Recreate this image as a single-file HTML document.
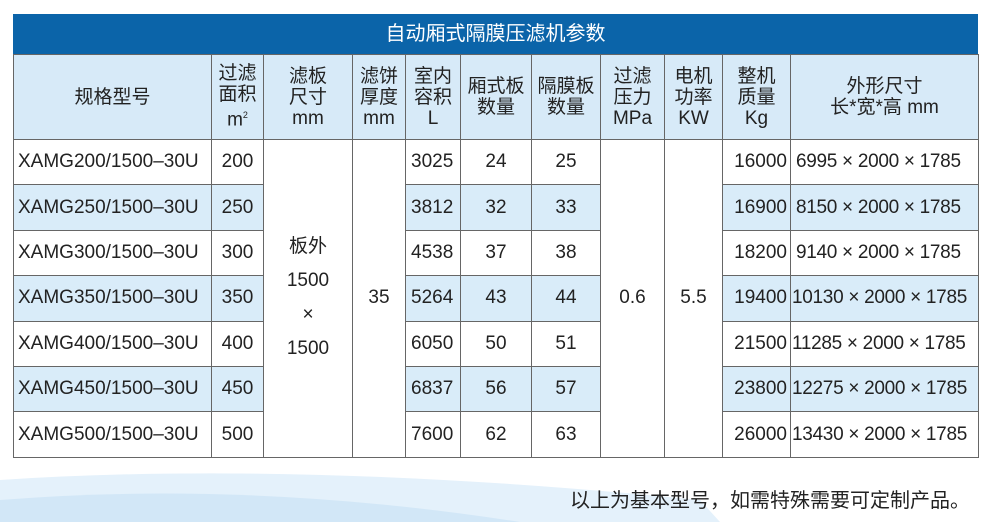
<!DOCTYPE html>
<html><head><meta charset="utf-8"><style>
body{margin:0;width:992px;height:522px;background:#fff;position:relative;overflow:hidden;font-family:"Liberation Sans","Noto Sans CJK SC",sans-serif;color:#222}
.title{position:absolute;left:13px;top:14px;width:965px;height:40px;background:#0b64a9;color:#fff;font-size:20px;line-height:40px;text-align:center}
table{position:absolute;left:13px;top:54px;border-collapse:collapse;table-layout:fixed;width:965px}
td{border:1px solid #666;text-align:center;font-size:19px;padding:0;white-space:nowrap}
tr.h td{background:#d7eaf8;height:84px;line-height:21px;font-size:19px}
tr.r td{height:44.4px}
tr.s td.c{background:#d9ecf9}
td.l{text-align:left;padding-left:4px}
td.v{text-align:left;padding-left:5px}
td.d{text-align:left;padding-left:5px;letter-spacing:-0.3px}
td.w{background:#fff}
.note{position:absolute;left:570px;top:484px;font-size:20px;color:#222}
</style></head><body>
<svg style="position:absolute;left:0;top:440px" width="992" height="82"><path d="M0,82 L0,40 Q300,20 700,60 L720,82Z" fill="#e4f1fb"/><path d="M0,82 L0,60 Q250,40 520,82Z" fill="#d2e7f7"/></svg>
<div class="title">自动厢式隔膜压滤机参数</div>
<table>
<colgroup><col style="width:198px"><col style="width:52px"><col style="width:89px"><col style="width:53px"><col style="width:55px"><col style="width:71px"><col style="width:69px"><col style="width:64px"><col style="width:58px"><col style="width:68px"><col style="width:188px"></colgroup>
<tr class="h"><td>规格型号</td><td>过滤<br>面积<br>m<sup style="font-size:9px">2</sup></td><td>滤板<br>尺寸<br>mm</td><td>滤饼<br>厚度<br>mm</td><td>室内<br>容积<br>L</td><td>厢式板<br>数量</td><td>隔膜板<br>数量</td><td>过滤<br>压力<br>MPa</td><td>电机<br>功率<br>KW</td><td>整机<br>质量<br>Kg</td><td>外形尺寸<br>长*宽*高 mm</td></tr>
<tr class="r"><td class="c l">XAMG200/1500–30U</td><td class="c">200</td><td class="w" rowspan="7" style="line-height:34px">板外<br>1500<br>×<br>1500</td><td class="w" rowspan="7">35</td><td class="c v">3025</td><td class="c">24</td><td class="c">25</td><td class="w" rowspan="7">0.6</td><td class="w" rowspan="7">5.5</td><td class="c" style="text-align:right;padding-right:3px">16000</td><td class="c d">6995 × 2000 × 1785</td></tr>
<tr class="r s"><td class="c l">XAMG250/1500–30U</td><td class="c">250</td><td class="c v">3812</td><td class="c">32</td><td class="c">33</td><td class="c" style="text-align:right;padding-right:3px">16900</td><td class="c d">8150 × 2000 × 1785</td></tr>
<tr class="r"><td class="c l">XAMG300/1500–30U</td><td class="c">300</td><td class="c v">4538</td><td class="c">37</td><td class="c">38</td><td class="c" style="text-align:right;padding-right:3px">18200</td><td class="c d">9140 × 2000 × 1785</td></tr>
<tr class="r s"><td class="c l">XAMG350/1500–30U</td><td class="c">350</td><td class="c v">5264</td><td class="c">43</td><td class="c">44</td><td class="c" style="text-align:right;padding-right:3px">19400</td><td class="c d" style="padding-left:1px">10130 × 2000 × 1785</td></tr>
<tr class="r"><td class="c l">XAMG400/1500–30U</td><td class="c">400</td><td class="c v">6050</td><td class="c">50</td><td class="c">51</td><td class="c" style="text-align:right;padding-right:3px">21500</td><td class="c d" style="padding-left:1px">11285 × 2000 × 1785</td></tr>
<tr class="r s"><td class="c l">XAMG450/1500–30U</td><td class="c">450</td><td class="c v">6837</td><td class="c">56</td><td class="c">57</td><td class="c" style="text-align:right;padding-right:3px">23800</td><td class="c d" style="padding-left:1px">12275 × 2000 × 1785</td></tr>
<tr class="r"><td class="c l">XAMG500/1500–30U</td><td class="c">500</td><td class="c v">7600</td><td class="c">62</td><td class="c">63</td><td class="c" style="text-align:right;padding-right:3px">26000</td><td class="c d" style="padding-left:1px">13430 × 2000 × 1785</td></tr>
</table>
<div class="note">以上为基本型号，如需特殊需要可定制产品。</div>
</body></html>
